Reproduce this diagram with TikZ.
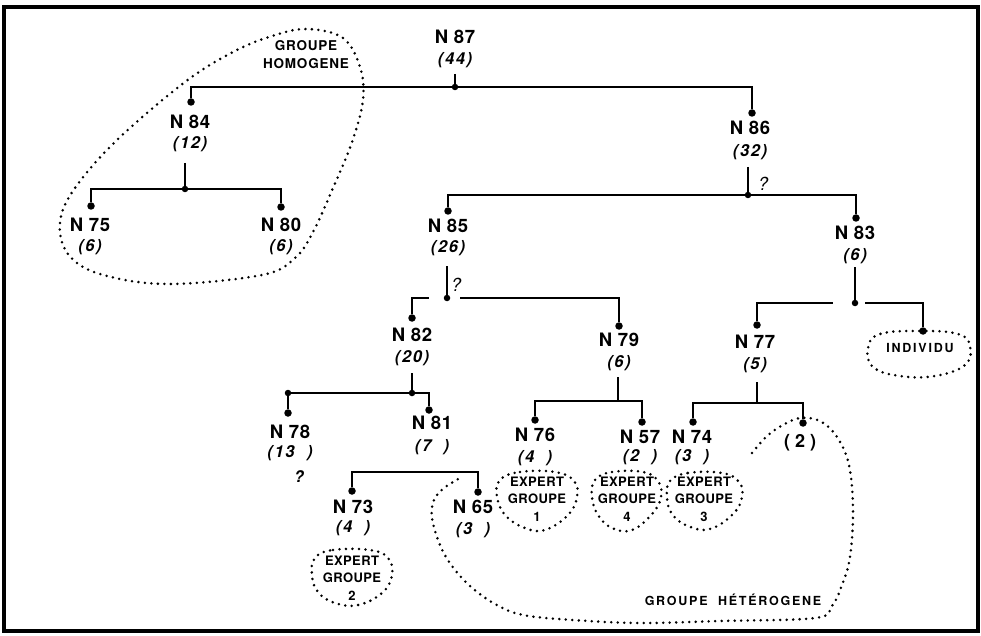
\documentclass[tikz,border=0pt]{standalone}
\usepackage{fontspec}
\setmainfont{TeX Gyre Heros}
\newcommand{\nmfont}{\bfseries\fontsize{18.5}{19}\selectfont\addfontfeatures{LetterSpace=3}}
\newcommand{\ctfont}{\bfseries\itshape\fontsize{16.5}{17}\selectfont\addfontfeatures{LetterSpace=10}}
\newcommand{\grfont}{\bfseries\fontsize{13.5}{18}\selectfont\addfontfeatures{LetterSpace=6}}
\newcommand{\exfont}{\bfseries\fontsize{13}{17.5}\selectfont\addfontfeatures{LetterSpace=3}}
\begin{document}
\begin{tikzpicture}[x=1pt,y=-1pt,
  nm/.style={font=\nmfont, inner sep=0},
  ct/.style={font=\ctfont, inner sep=0},
  grp/.style={font=\grfont, inner sep=0, align=center},
  exl/.style={font=\exfont, inner sep=0, align=center},
  qm/.style={font=\itshape\fontsize{18}{18}\selectfont, inner sep=0},
  tree/.style={line width=2.6pt},
  enddot/.style={circle, fill=black, inner sep=0, minimum size=7.5pt},
  jdot/.style={circle, fill=black, inner sep=0, minimum size=6.5pt},
  dotline/.style={line width=2.8pt, dash pattern=on 0pt off 6.5pt, line cap=round}]
\useasboundingbox (0,0) rectangle (981,636);
\draw[line width=3.8pt] (4,7) rectangle (978,631);

% ---- labels
\node[nm] (n87) at (455,37) {N 87}; \node[ct] (c87) at (455,60) {(44)};
\node[nm] (n84) at (190,122) {N 84}; \node[ct] (c84) at (190,144) {(12)};
\node[nm] (n75) at (90,225) {N 75}; \node[ct] (c75) at (90,247) {(6)};
\node[nm] (n80) at (281,225) {N 80}; \node[ct] (c80) at (281,247) {(6)};
\node[nm] (n86) at (750,128) {N 86}; \node[ct] (c86) at (750,152) {(32)};
\node[nm] (n85) at (448,226) {N 85}; \node[ct] (c85) at (448,248) {(26)};
\node[nm] (n83) at (855,233) {N 83}; \node[ct] (c83) at (855,256) {(6)};
\node[nm] (n82) at (412,335) {N 82}; \node[ct] (c82) at (412,358) {(20)};
\node[nm] (n79) at (619,340) {N 79}; \node[ct] (c79) at (619,363) {(6)};
\node[nm] (n77) at (755,342) {N 77}; \node[ct] (c77) at (755,365) {(5)};
\node[nm] (n78) at (290,432) {N 78}; \node[ct] (c78) at (290,453) {(13\ \ )};
\node[qm,font=\bfseries\itshape\fontsize{16}{16}\selectfont] (q78) at (299,477) {?};
\node[nm] (n81) at (432,423) {N 81}; \node[ct] (c81) at (432,447) {(7\ \ )};
\node[nm] (n73) at (353,507) {N 73}; \node[ct] (c73) at (353,528) {(4\ \ )};
\node[nm] (n65) at (473,507) {N 65}; \node[ct] (c65) at (473,530) {(3\ \ )};
\node[nm] (n76) at (535,435) {N 76}; \node[ct] (c76) at (535,458) {(4\ \ )};
\node[nm] (n57) at (640,437) {N 57}; \node[ct] (c57) at (640,457) {(2\ \ )};
\node[nm] (n74) at (692,437) {N 74}; \node[ct] (c74) at (692,457) {(3\ \ )};
\node[inner sep=0, font=\bfseries\fontsize{18}{18}\selectfont] (n2) at (800,443) {( 2 )};
\node[qm] (q85) at (456,285) {?};
\node[qm] (q86) at (763,184) {?};

% ---- dots
\node[enddot] (d84) at (191,102) {};
\node[enddot] (d75) at (91,206) {};
\node[enddot] (d80) at (281,207) {};
\node[enddot] (d86) at (752,113) {};
\node[enddot] (d85) at (448,211) {};
\node[enddot] (d83) at (856,218) {};
\node[enddot] (d82) at (412,318) {};
\node[enddot] (d79) at (619,326) {};
\node[enddot] (d77) at (757,325) {};
\node[enddot] (dind) at (923,331) {};
\node[enddot] (d78) at (288,413) {};
\node[enddot] (d81) at (429,410) {};
\node[enddot] (d73) at (352,491) {};
\node[enddot] (d65) at (478,492) {};
\node[enddot] (d76) at (535,420) {};
\node[enddot] (d57) at (642,422) {};
\node[enddot] (d74) at (693,422) {};
\node[enddot] (d2) at (803,423) {};

\node[jdot] (j87) at (455,87) {};
\node[jdot] (j84) at (185,189) {};
\node[jdot] (j86) at (748,195) {};
\node[jdot] (j85) at (447,298) {};
\node[jdot] (j83) at (855,303) {};
\node[jdot] (j82) at (412,393) {};
\node[jdot] (k82) at (288,393) {};
\coordinate (j79) at (618,401);
\coordinate (j77) at (757,403);
\coordinate (k81) at (415,472);

\coordinate (s87) at (455,74);
\coordinate (s84) at (185,163);
\coordinate (s86) at (748,167);
\coordinate (s85) at (447,266);
\coordinate (s83) at (855,267);
\coordinate (s82) at (412,373);
\coordinate (s79) at (618,377);
\coordinate (s77) at (757,382);
\coordinate (g85a) at (429,298);
\coordinate (g85b) at (460,298);
\coordinate (g83a) at (833,303);
\coordinate (g83b) at (865,303);

% ---- connectors
\draw[tree] (s87) -- (j87);
\draw[tree] (j87.center) -| (d84);
\draw[tree] (j87.center) -| (d86);
\draw[tree] (s84) -- (j84);
\draw[tree] (j84.center) -| (d75);
\draw[tree] (j84.center) -| (d80);
\draw[tree] (s86) -- (j86);
\draw[tree] (j86.center) -| (d85);
\draw[tree] (j86.center) -| (d83);
\draw[tree] (s85) -- (j85);
\draw[tree] (d82) |- (g85a);
\draw[tree] (g85b) -| (d79);
\draw[tree] (s83) -- (j83);
\draw[tree] (d77) |- (g83a);
\draw[tree] (g83b) -| (dind);
\draw[tree] (s82) -- (j82);
\draw[tree] (k82.center) -- (j82.center) -| (d81);
\draw[tree] (k82) -- (d78);
\draw[tree] (d73) |- (k81) -| (d65);
\draw[tree] (s79) -- (j79);
\draw[tree] (j79) -| (d76);
\draw[tree] (j79) -| (d57);
\draw[tree] (s77) -- (j77);
\draw[tree] (j77) -| (d74);
\draw[tree] (j77) -| (d2);

% ---- group outlines
\node[grp] (ghom) at (306,55) {GROUPE\\HOMOGENE};
\draw[dotline] plot[smooth cycle, tension=0.6] coordinates {
 (307,29) (343,38) (360,67) (363,100) (352,142) (333,188) (313,232)
 (295,258) (262,275) (167,284) (100,274) (68,254) (60,222) (75,188)
 (117,140) (185,82) (233,52) (272,36)};

\node[exl] (ex1) at (537,499) {EXPERT\\GROUPE\\1};
\node[exl] (ex4) at (627,499) {EXPERT\\GROUPE\\4};
\node[exl] (ex3) at (704,499) {EXPERT\\GROUPE\\3};
\node[exl] (ex2) at (352,578) {EXPERT\\GROUPE\\2};
\draw[dotline] plot[smooth cycle, tension=0.7] coordinates {
 (500,480) (520,472) (555,472) (574,481) (577,497) (568,515) (545,530) (525,528) (506,516) (497,497)};
\draw[dotline] plot[smooth cycle, tension=0.7] coordinates {
 (595,480) (612,472) (643,472) (658,481) (661,497) (652,514) (632,530) (612,528) (598,515) (592,497)};
\draw[dotline] plot[smooth cycle, tension=0.7] coordinates {
 (670,481) (688,473) (722,473) (739,482) (742,497) (733,514) (710,529) (688,526) (672,514) (667,497)};
\draw[dotline] plot[smooth cycle, tension=0.7] coordinates {
 (315,558) (333,550) (370,550) (388,558) (392,575) (382,593) (358,605) (335,603) (318,592) (312,575)};

\node[grp, font=\bfseries\fontsize{12.5}{13}\selectfont\addfontfeatures{LetterSpace=14}] (indiv) at (920,348) {INDIVIDU};
\draw[dotline] plot[smooth cycle, tension=0.7] coordinates {
 (880,334) (920,331) (958,334) (970,346) (965,365) (935,376) (900,376) (873,367) (868,348)};

\node[grp, font=\bfseries\fontsize{12.5}{13}\selectfont\addfontfeatures{LetterSpace=14}] (ghet) at (733,600) {GROUPE\ \ HÉTÉROGENE};
\draw[dotline] plot[smooth, tension=0.6] coordinates {
 (752,453) (767,436) (783,425) (800,418) (820,421) (837,437) (849,465) (853,510)
 (850,557) (842,585) (832,606) (815,618) (720,621) (640,623) (573,620) (523,615)
 (495,604) (470,586) (452,566) (440,545) (432,518) (434,500) (444,488) (460,478)};
\end{tikzpicture}
\end{document}
